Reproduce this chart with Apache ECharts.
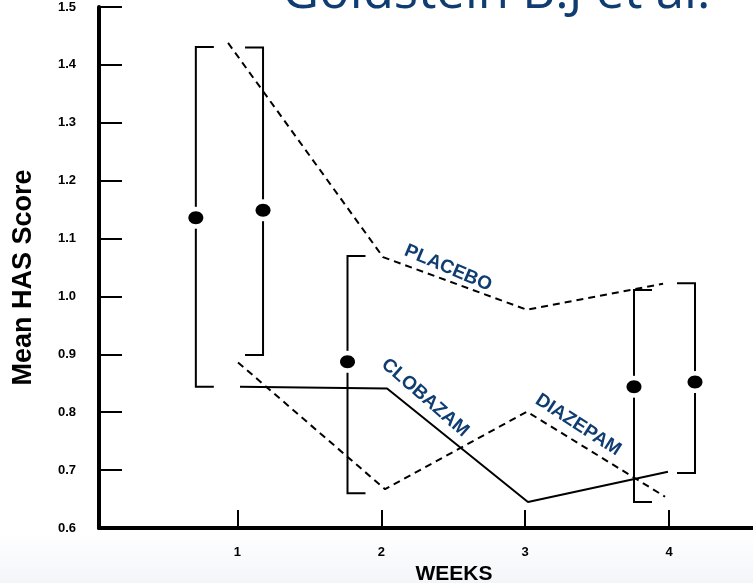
<!DOCTYPE html>
<html><head><meta charset="utf-8">
<script src="https://cdn.jsdelivr.net/npm/echarts@6/dist/echarts.min.js"></script>
<style>html,body{margin:0;padding:0;background:#fff}#c{width:753px;height:583px}</style>
</head><body><div id="c"></div>
<script>
// ---- data ----
const weekTicks = [1, 2, 3, 4];
const placeboWeeks  = [0.935, 2.012, 3.012, 3.958];
const placeboScore  = [1.438, 1.068, 0.977, 1.022];
const clobazamWeeks = [1.018, 2.040, 3.019, 3.992];
const clobazamScore = [0.844, 0.841, 0.645, 0.697];
const diazepamWeeks = [1.004, 2.026, 3.012, 3.972];
const diazepamScore = [0.886, 0.667, 0.801, 0.654];
// error bars: position on week axis, low, high, mean
const errWeek = [0.711, 1.178, 1.765, 3.756, 4.180];
const errLow  = [0.844, 0.899, 0.660, 0.645, 0.695];
const errHigh = [1.431, 1.430, 1.070, 1.011, 1.023];
const errMean = [1.136, 1.149, 0.887, 0.844, 0.852];
const seriesNames = ['PLACEBO', 'CLOBAZAM', 'DIAZEPAM'];

// ---- chart ----
const zip = (a, b) => a.map((v, i) => [v, b[i]]);
const capDir = [1, -1, 1, 1, -1];
const blue = '#0f3d72';
const sans = '"Liberation Sans", Arial, sans-serif';
const chart = echarts.init(document.getElementById('c'));
const option = {
  animation: false,
  backgroundColor: '#fff',
  title: {
    text: 'Goldstein B.J et al.', left: 277, top: -37,
    textStyle: { fontFamily: '"Open Sans", sans-serif', fontSize: 51, fontWeight: 'normal', color: blue }
  },
  graphic: [{
    type: 'rect', z: -10, shape: { x: 0, y: 533, width: 753, height: 50 },
    style: { fill: new echarts.graphic.LinearGradient(0, 0, 0, 1, [{ offset: 0, color: '#ffffff' }, { offset: 1, color: '#f3f5f9' }]) }
  }],
  grid: { left: 99, right: 0, top: 7, bottom: 55, outerBoundsMode: 'none', containLabel: false },
  xAxis: {
    type: 'value', min: 0.038, max: 4.583,
    name: 'WEEKS', nameLocation: 'middle', nameGap: 30,
    nameTextStyle: { fontFamily: sans, fontWeight: 'bold', fontSize: 21, color: '#000', padding: [0, 0, 0, 56] },
    axisLine: { lineStyle: { color: '#000', width: 4 } },
    axisTick: { customValues: weekTicks, inside: true, length: 18, lineStyle: { color: '#000', width: 2 } },
    axisLabel: { customValues: weekTicks, margin: 18, fontFamily: sans, fontWeight: 'bold', fontSize: 13, color: '#000' },
    splitLine: { show: false }
  },
  yAxis: {
    type: 'value', min: 0.6, max: 1.5, interval: 0.1,
    name: 'Mean HAS Score', nameLocation: 'middle', nameGap: 62,
    nameTextStyle: { fontFamily: sans, fontWeight: 'bold', fontSize: 27, color: '#000', padding: [0, 20, 0, 0] },
    axisLine: { lineStyle: { color: '#000', width: 4 } },
    axisTick: { inside: true, length: 23, lineStyle: { color: '#000', width: 2 } },
    axisLabel: { margin: 23, formatter: v => v.toFixed(1), fontFamily: sans, fontWeight: 'bold', fontSize: 13, color: '#000' },
    splitLine: { show: false }
  },
  series: [
    { name: 'Placebo', type: 'line', symbol: 'none', data: zip(placeboWeeks, placeboScore),
      lineStyle: { color: '#000', width: 2, type: [7, 5] } },
    { name: 'Clobazam', type: 'line', symbol: 'none', data: zip(clobazamWeeks, clobazamScore),
      lineStyle: { color: '#000', width: 2 } },
    { name: 'Diazepam', type: 'line', symbol: 'none', data: zip(diazepamWeeks, diazepamScore),
      lineStyle: { color: '#000', width: 2, type: [7, 5] } },
    { name: 'SD', type: 'custom', z: 3,
      data: errWeek.map((w, i) => [w, errLow[i], errHigh[i], errMean[i]]),
      renderItem(params, api) {
        const i = params.dataIndex;
        const top = api.coord([api.value(0), api.value(2)]);
        const bot = api.coord([api.value(0), api.value(1)]);
        const mid = api.coord([api.value(0), api.value(3)]);
        const d = capDir[i] * 18;
        return { type: 'group', children: [
          { type: 'polyline', shape: { points: [[top[0] + d, top[1]], top, bot, [bot[0] + d, bot[1]]] },
            style: { stroke: '#000', lineWidth: 2, fill: null } },
          { type: 'circle', shape: { cx: mid[0], cy: mid[1], r: 11 }, style: { fill: '#fff' } },
          { type: 'ellipse', shape: { cx: mid[0], cy: mid[1], rx: 7.5, ry: 6.5 }, style: { fill: '#000' } }
        ] };
      }
    },
    { name: 'labels', type: 'scatter', symbolSize: 0, silent: true, z: 4,
      itemStyle: { color: blue, opacity: 1 },
      label: { show: true, position: 'inside', color: blue, opacity: 1, textBorderWidth: 0, fontFamily: sans, fontWeight: 'bold', fontSize: 19 },
      data: [
        { value: [2.464, 1.049], label: { rotate: -23, formatter: seriesNames[0] } },
        { value: [2.304, 0.825], label: { rotate: -41, formatter: seriesNames[1] } },
        { value: [3.367, 0.778], label: { rotate: -33, formatter: seriesNames[2] } }
      ]
    }
  ]
};
chart.setOption(option);
</script></body></html>
